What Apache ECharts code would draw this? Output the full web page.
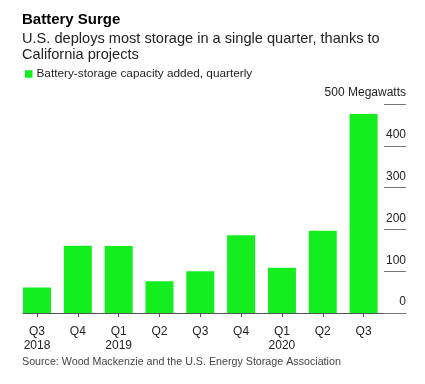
<!DOCTYPE html>
<html><head><meta charset="utf-8">
<script src="https://cdn.jsdelivr.net/npm/echarts@6/dist/echarts.min.js"></script>
<style>html,body{margin:0;padding:0;background:#fff}#c{width:425px;height:384px}</style>
</head><body><div id="c"></div>
<script>
const categories = ['Q3\n2018','Q4','Q1\n2019','Q2','Q3','Q4','Q1\n2020','Q2','Q3'];
const capacityAdded = [61, 161, 160, 76, 100, 186, 108, 197, 476];
const yTicks = [0, 100, 200, 300, 400, 500];
const title = 'Battery Surge';
const subtitle = 'U.S. deploys most storage in a single quarter, thanks to\nCalifornia projects';
const seriesName = 'Battery-storage capacity added, quarterly';
const source = 'Source: Wood Mackenzie and the U.S. Energy Storage Association';
const unit = 'Megawatts';

const font = 'Liberation Sans, Arial, sans-serif';
const chart = echarts.init(document.getElementById('c'), null, {renderer: 'canvas'});
chart.setOption({
  animation: false,
  backgroundColor: '#fff',
  textStyle: {fontFamily: font},
  title: [
    {text: title, left: 22, top: 12, padding: 0, textStyle: {fontSize: 15, fontWeight: 'bold', color: '#000', fontFamily: font}},
    {text: subtitle, left: 22, top: 30.5, padding: 0, textStyle: {fontSize: 14.6, fontWeight: 'normal', color: '#222', lineHeight: 16, fontFamily: font}},
    {text: source, left: 22, top: 356.5, padding: 0, textStyle: {fontSize: 10.7, fontWeight: 'normal', color: '#444', fontFamily: font}}
  ],
  legend: {
    left: 25, top: 68, padding: 0, itemWidth: 7.5, itemHeight: 7.5, itemGap: 4,
    icon: 'rect',
    textStyle: {fontSize: 11.8, color: '#222', padding: [0, 0, 0, -1]},
    data: [seriesName]
  },
  grid: [
    {left: 16.6, right: 41, top: 104, bottom: 71},
    {left: 23, right: 19, top: 104, bottom: 71}
  ],
  xAxis: [
    {type: 'category', gridIndex: 0, data: categories,
     axisLine: {show: false},
     axisTick: {show: true, alignWithLabel: true, length: 4, lineStyle: {color: '#555'}},
     axisLabel: {fontSize: 12, color: '#222', lineHeight: 14.5, margin: 11, interval: 0}},
    {type: 'value', gridIndex: 1, min: 0, max: 1, show: true,
     axisLine: {show: true, onZero: false, lineStyle: {color: '#555', width: 1}},
     axisTick: {show: false}, axisLabel: {show: false}, splitLine: {show: false}}
  ],
  yAxis: [
    {type: 'value', gridIndex: 0, position: 'right', min: yTicks[0], max: yTicks[yTicks.length-1], interval: 100,
     axisLine: {show: false},
     axisTick: {show: true, inside: false, length: 22, lineStyle: {color: '#777'}},
     splitLine: {show: false},
     axisLabel: {inside: false, margin: 22, align: 'right', verticalAlign: 'bottom', padding: [0, 0, 5, 0],
                 fontSize: 12, color: '#222',
                 formatter: v => v === 500 ? '500 ' + unit : String(v)}},
    {type: 'value', gridIndex: 1, show: false, min: 0, max: 1}
  ],
  series: [{
    name: seriesName, type: 'bar', xAxisIndex: 0, yAxisIndex: 0,
    data: capacityAdded, barWidth: 28,
    itemStyle: {color: '#14EE1F'}
  }]
});
</script></body></html>
